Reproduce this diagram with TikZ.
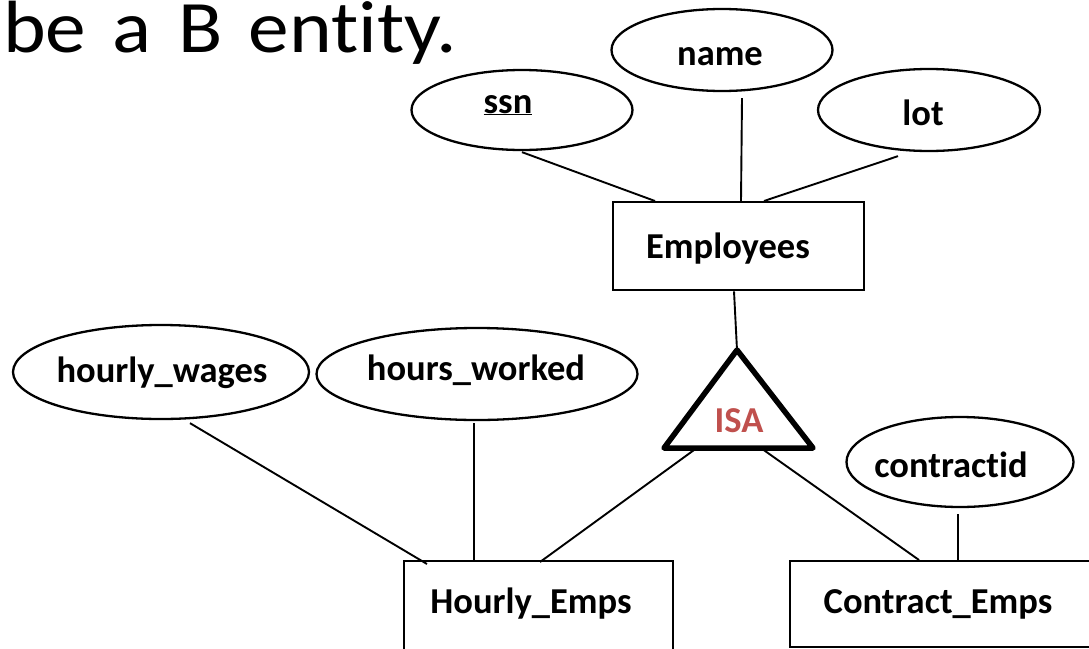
\documentclass[tikz,border=0pt]{standalone}
\usepackage{fontspec}
\setmainfont{Carlito}[Ligatures={NoCommon}]
\usetikzlibrary{shapes.geometric,calc}
\definecolor{isared}{RGB}{192,80,77}
\begin{document}
\begin{tikzpicture}[x=1pt,y=-1pt,
  attr/.style={draw, ellipse, line width=2.3pt, inner sep=0pt},
  ent/.style={draw, line width=2.3pt, inner sep=0pt, anchor=north west},
  lbl/.style={font=\fontsize{36.5}{40}\selectfont\bfseries, anchor=base, inner sep=0pt},
  conn/.style={line width=1.9pt}]
\useasboundingbox (0,0) rectangle (1089,648);
\clip (0,0) rectangle (1089,648);
\fill[white] (0,0) rectangle (1089,648);

% title
\node[anchor=base west, inner sep=0pt, xscale=1.1, font=\fontsize{74}{80}\selectfont] (title) at (3,52)
  {\spaceskip=24pt be a B entity.};

% attributes
\node[attr, minimum width=221pt, minimum height=80pt] (ssn) at (522,110) {};
\node[lbl] (ssnT) at (508,113) {\underline{ssn}};
\node[attr, minimum width=221pt, minimum height=82pt] (name) at (722,50) {};
\node[lbl] (nameT) at (720,65) {name};
\node[attr, minimum width=222pt, minimum height=82pt] (lot) at (929,110) {};
\node[lbl] (lotT) at (923,125) {lot};

\node[attr, minimum width=296pt, minimum height=94pt] (hw) at (161,372) {};
\node[lbl] (hwT) at (162,382) {hourly\_wages};
\node[attr, minimum width=321pt, minimum height=92pt] (hrs) at (477,374) {};
\node[lbl] (hrsT) at (476,380) {hours\_worked};
\node[attr, minimum width=227pt, minimum height=90pt] (cid) at (960,462) {};
\node[lbl] (cidT) at (951,477) {contractid};

% entities
\node[ent, minimum width=251pt, minimum height=88pt] (emp) at (612,201) {};
\node[lbl] (empT) at (728,258) {Employees};
\node[ent, minimum width=269pt, minimum height=95pt] (he) at (403,560) {};
\node[lbl] (heT) at (531,613) {Hourly\_Emps};
\node[ent, minimum width=320pt, minimum height=86pt] (ce) at (789,560) {};
\node[lbl] (ceT) at (938,613) {Contract\_Emps};

% ISA triangle
\coordinate (isaTop) at (737,350);
\coordinate (isaL) at (664,448);
\coordinate (isaR) at (813,448);
\draw[line width=5.5pt, line join=round, line cap=round] (isaTop) -- (isaL) -- (isaR) -- cycle;
\node[lbl, text=isared] (isa) at (739,432) {ISA};

% connectors
\draw[conn] ([yshift=-1pt]ssn.south) -- ([xshift=43pt]emp.north west);
\draw[conn] ([xshift=20pt,yshift=-6pt]name.south) -- ([xshift=129pt]emp.north west);
\draw[conn] ([xshift=-31pt,yshift=-4pt]lot.south) -- ([xshift=152pt]emp.north west);
\draw[conn] ([xshift=122pt]emp.south west) -- (isaTop);
\draw[conn] ([xshift=29pt,yshift=-3pt]hw.south) -- ([xshift=24pt,yshift=-4pt]he.north west);
\draw[conn] ([xshift=-3pt,yshift=-2pt]hrs.south) -- ([xshift=71pt]he.north west);
\draw[conn] ($(isaL)!0.22!(isaR)$) -- ([xshift=137pt,yshift=-2pt]he.north west);
\draw[conn] ($(isaL)!0.65!(isaR)$) -- ([xshift=130pt]ce.north west);
\draw[conn] ([xshift=-2pt,yshift=-6pt]cid.south) -- ([xshift=169pt]ce.north west);
\end{tikzpicture}
\end{document}
